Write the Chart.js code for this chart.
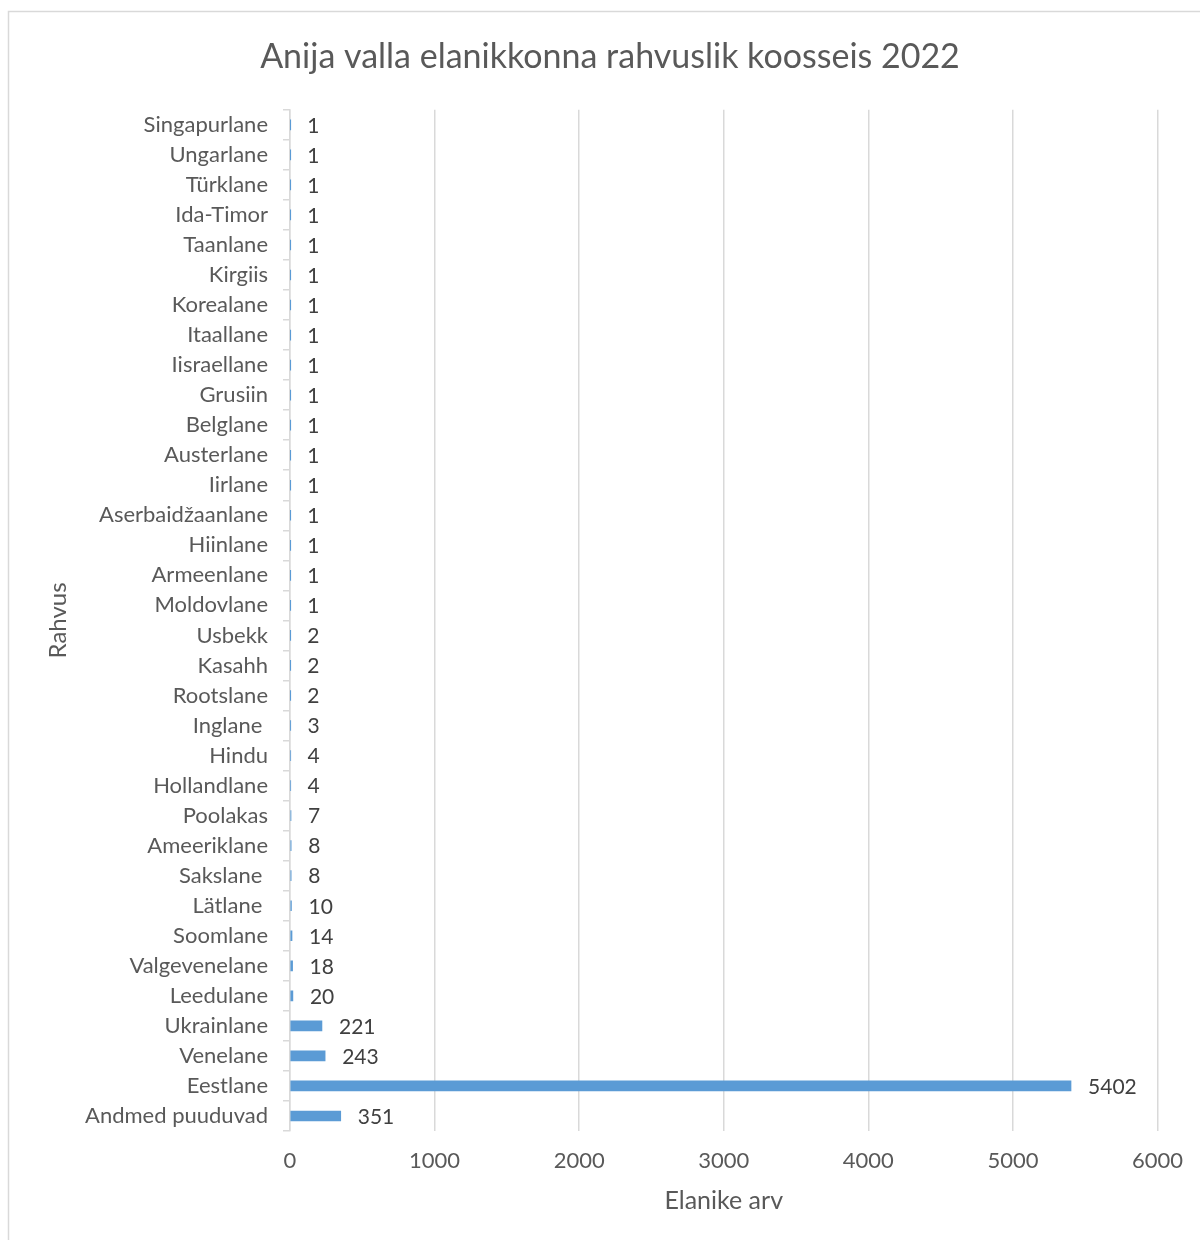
<!doctype html>
<html lang="et">
  <head>
    <meta charset="utf-8">
    <script src="https://cdn.jsdelivr.net/npm/chart.js@4.4.1/dist/chart.umd.min.js"></script>
    <title>Anija valla elanikkonna rahvuslik koosseis 2022</title>
    <style>
      html, body { margin: 0; padding: 0; background: #fff; }
      #wrap { width: 1200px; height: 1240px; }
    </style>
  </head>
  <body>
    <div id="wrap"><canvas id="rahvused"></canvas></div>

  <script>

    // andmed (ülevalt alla nagu pildil)
    let rahvused = ['Singapurlane','Ungarlane','Türklane','Ida-Timor','Taanlane','Kirgiis','Korealane',
      'Itaallane','Iisraellane','Grusiin','Belglane','Austerlane','Iirlane','Aserbaidžaanlane','Hiinlane',
      'Armeenlane','Moldovlane','Usbekk','Kasahh','Rootslane','Inglane ','Hindu','Hollandlane','Poolakas',
      'Ameeriklane','Sakslane ','Lätlane ','Soomlane','Valgevenelane','Leedulane','Ukrainlane','Venelane',
      'Eestlane','Andmed puuduvad'];
    let elanikud = [1,1,1,1,1,1,1,1,1,1,1,1,1,1,1,1,1,2,2,2,3,4,4,7,8,8,10,14,18,20,221,243,5402,351];
    let xTicks = [0,1000,2000,3000,4000,5000,6000];

    const fontName = 'Lato, "Open Sans", sans-serif';
    const halli = '#d9d9d9';

    // raam ümber graafiku
    const raam = {
      id: 'raam',
      beforeDraw(chart) {
        const c = chart.ctx;
        c.save();
        c.fillStyle = '#fff';
        c.fillRect(0, 0, chart.width, chart.height);
        c.strokeStyle = halli;
        c.lineWidth = 1.5;
        c.strokeRect(8.5, 11.5, chart.width + 20, chart.height + 20);
        c.restore();
      }
    };

    // väärtused tulpade otsa
    const sildid = {
      id: 'sildid',
      afterDatasetsDraw(chart) {
        const c = chart.ctx;
        const meta = chart.getDatasetMeta(0);
        c.save();
        c.font = '21px ' + fontName;
        c.fillStyle = '#404040';
        c.textAlign = 'left';
        c.textBaseline = 'middle';
        meta.data.forEach((bar, i) => {
          c.fillText(String(elanikud[i]), bar.x + 17, bar.y + 1);
        });
        c.restore();
      }
    };

    let canvas = document.getElementById('rahvused').getContext('2d');

    new Chart(canvas, {
      type: 'bar',
      data: {
        labels: rahvused,
        datasets: [{
          label: 'Elanike arv',
          data: elanikud,
          backgroundColor: '#5b9bd5',
          borderWidth: 0,
          barThickness: 10
        }]
      },
      plugins: [raam, sildid],
      options: {
        indexAxis: 'y',
        responsive: true,
        maintainAspectRatio: false,
        animation: false,
        layout: { padding: { left: 62, right: 42, top: 0, bottom: 0 } },
        plugins: {
          legend: { display: false },
          tooltip: { enabled: false },
          title: {
            display: true,
            text: 'Anija valla elanikkonna rahvuslik koosseis 2022',
            color: '#595959',
            font: { family: fontName, size: 34, weight: 'normal', lineHeight: 1.2 },
            padding: { top: 37, bottom: 32 }
          }
        },
        scales: {
          x: {
            min: 0,
            max: 6000,
            afterFit: s => { s.height = 109; },
            afterBuildTicks: s => { s.ticks = xTicks.map(v => ({ value: v })); },
            grid: { color: halli, lineWidth: 1.5, drawTicks: false },
            border: { display: false },
            ticks: {
              color: '#595959',
              padding: 17,
              callback: v => String(v),
              font: { family: fontName, size: 22 }
            },
            title: {
              display: true,
              text: 'Elanike arv',
              color: '#595959',
              font: { family: fontName, size: 25, lineHeight: 1.2 },
              padding: { top: 12, bottom: 24 }
            }
          },
          y: {
            afterFit: s => { s.width = 228; },
            grid: { drawOnChartArea: false, color: halli, lineWidth: 1.5, tickLength: 7 },
            border: { color: halli, width: 1.5 },
            ticks: {
              color: '#595959',
              padding: 15,
              autoSkip: false,
              font: { family: fontName, size: 22 }
            },
            title: {
              display: true,
              text: 'Rahvus',
              color: '#595959',
              font: { family: fontName, size: 24, lineHeight: 1.2 },
              padding: { top: -18, bottom: 0 }
            }
          }
        }
      }
    });

  </script>
  </body>
</html>
